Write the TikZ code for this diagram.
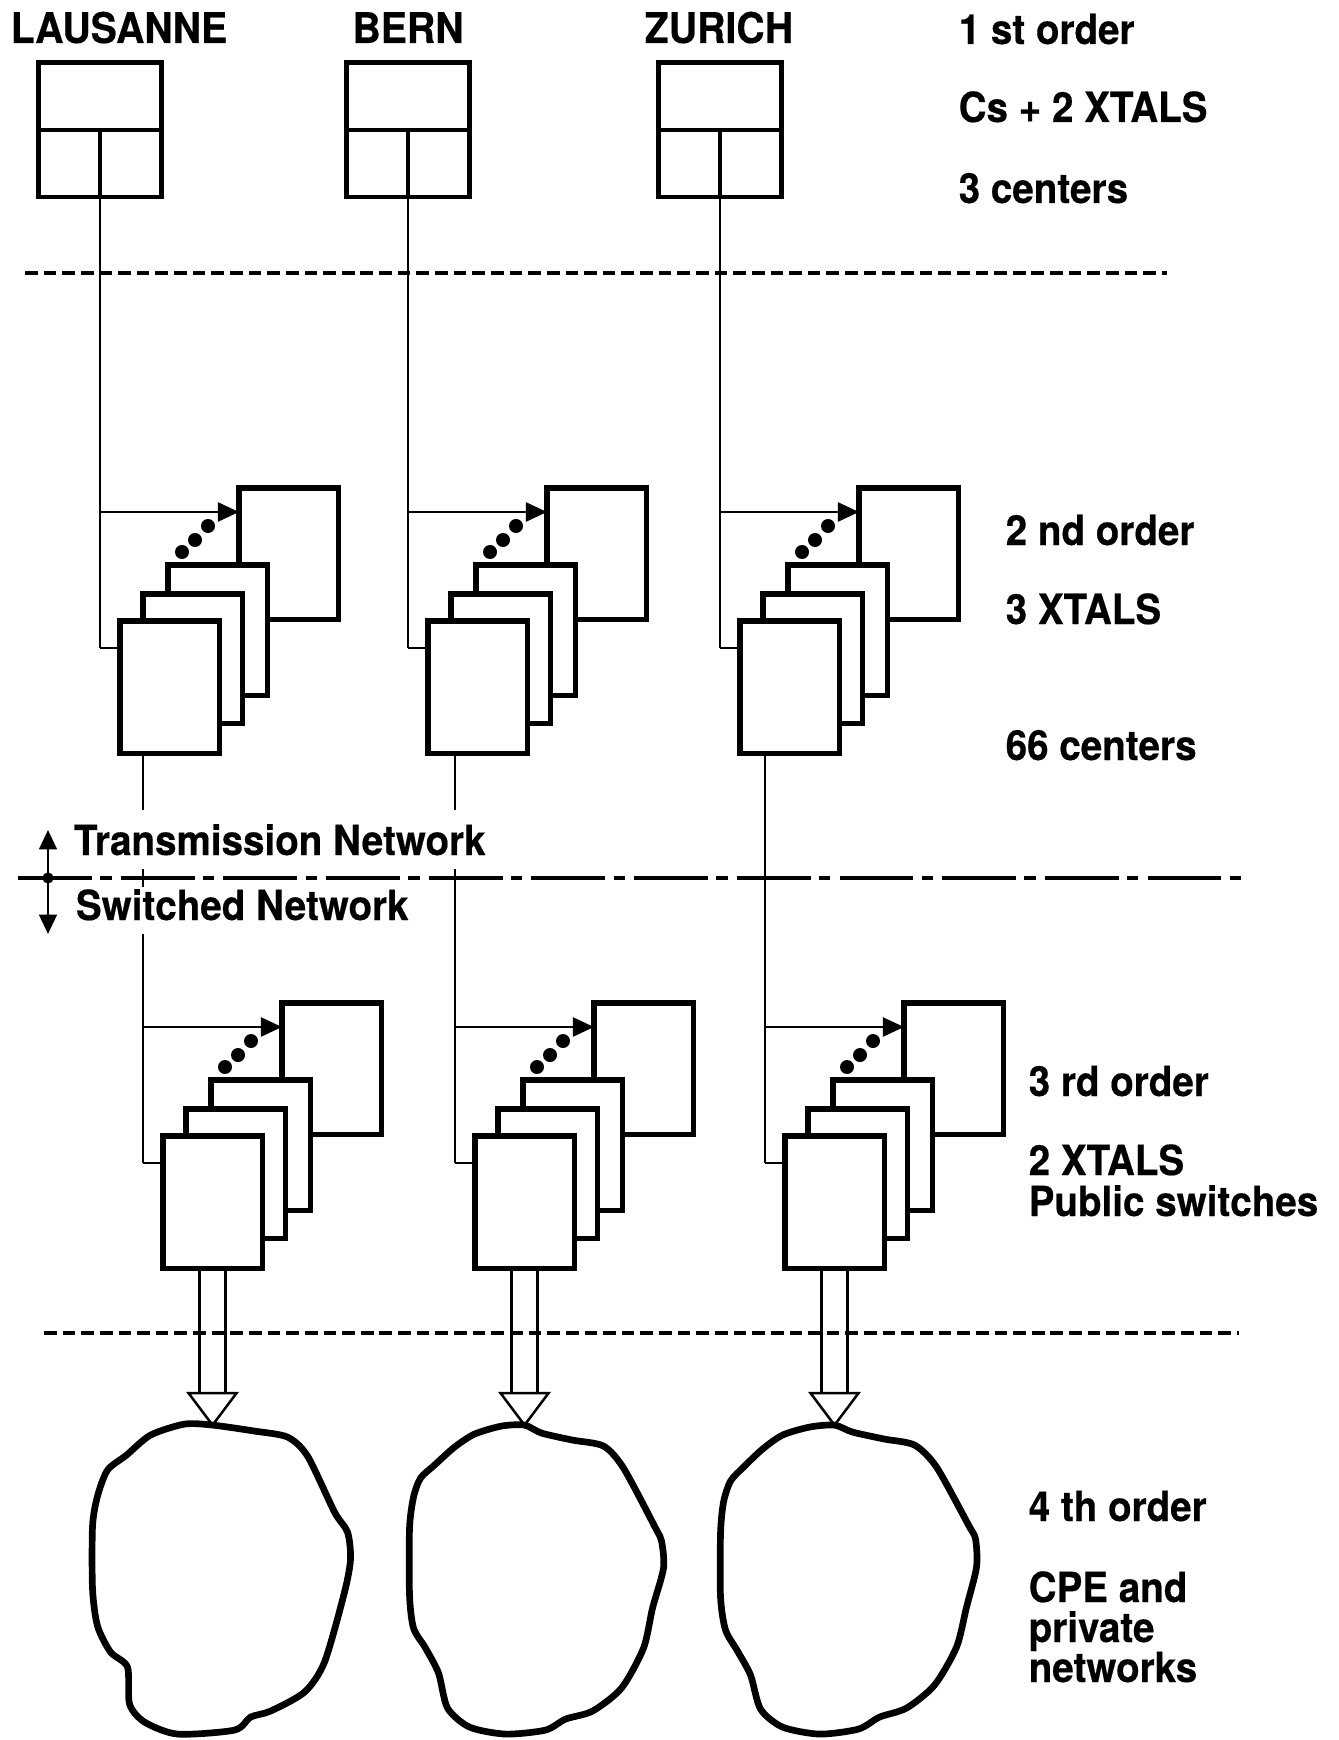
\documentclass[tikz,border=0pt]{standalone}
\usepackage{fontspec}
\setmainfont{TeX Gyre Heros}[FakeStretch=0.93,FakeBold=0.4]
\usetikzlibrary{arrows.meta,calc}
\newcommand{\stackgrp}[3]{%
  \node[sbox,minimum height=1.31cm] (#1bk) at ({#2+139},{#3-24}) {};
  \node[sbox,minimum height=1.30cm] (#1s3) at ({#2+68},{#3+53}) {};
  \node[sbox,minimum height=1.29cm] (#1s2) at ({#2+43},{#3+82}) {};
  \node[sbox,minimum height=1.32cm] (#1s1) at ({#2+20},{#3+109}) {};
  \coordinate (#1a) at (#2,#3);
  \coordinate (#1c) at (#2,{#3+136});
  \draw[arr] (#1a) -- (#1a -| #1bk.west);
  \draw[wire] (#1c) -- (#1c -| #1s1.west);
  \node[dotf] (#1d1) at ({#2+82},{#3+40}) {};
  \node[dotf] (#1d2) at ({#2+95},{#3+28}) {};
  \node[dotf] (#1d3) at ({#2+108},{#3+14}) {};
}
\newcommand{\firstbox}[2]{%
  \node[fbox] (#1) at (#2,130) {};
  \draw[line width=1.4pt] (#1.west) -- (#1.east) (#1.center) -- (#1.south);
}
\newcommand{\dblarr}[2]{% #1 source node, #2 tip coordinate name
  \draw[wire] ($(#1.south)+(-13,0)$) -- ++(0,125);
  \draw[wire] ($(#1.south)+(13,0)$) -- ++(0,125);
  \draw[wire,fill=white] ($(#1.south)+(-24,125)$) -- ++(48,0) -- ++(-24,32) -- cycle;
  \coordinate (#2) at ($(#1.south)+(0,157)$);
}
\begin{document}
\begin{tikzpicture}[x=0.01cm,y=-0.01cm,
  sbox/.style={draw,line width=1.45pt,fill=white,inner sep=0pt,outer sep=0pt,anchor=north west,minimum width=0.99cm},
  fbox/.style={draw,line width=1.4pt,inner sep=0pt,outer sep=0pt,minimum width=1.23cm,minimum height=1.34cm},
  wire/.style={line width=0.7pt},
  arr/.style={wire,-{Triangle[length=6pt,width=5.4pt]}},
  dashln/.style={line width=1pt,dash pattern=on 3.6pt off 1.7pt},
  dashdot/.style={line width=1pt,dash pattern=on 21pt off 2.4pt on 3.2pt off 2.6pt},
  blob/.style={line width=1.9pt,line join=round},
  city/.style={font=\fontsize{12}{13}\selectfont\bfseries,inner sep=0pt,anchor=base},
  lbl/.style={font=\fontsize{11.8}{13}\selectfont\bfseries,inner sep=0pt,anchor=base west},
  netl/.style={font=\fontsize{11.8}{13}\selectfont\bfseries,anchor=base west,fill=white,inner xsep=1.5pt},
  dotf/.style={circle,fill,inner sep=0pt,minimum size=0.14cm}
]
\useasboundingbox (0,0) rectangle (1338,1740);

% ---- titles
\node[city] (tLau) at (119,43) {LAUSANNE};
\node[city] (tBern) at (408,43) {BERN};
\node[city] (tZur) at (719,43) {ZURICH};

% ---- 1st order
\firstbox{lau1}{100}
\firstbox{ber1}{408}
\firstbox{zur1}{720}

% ---- 2nd order
\stackgrp{lau2}{100}{512}
\stackgrp{ber2}{408}{512}
\stackgrp{zur2}{720}{512}
\draw[wire] (lau1.south) -- (lau2c);
\draw[wire] (ber1.south) -- (ber2c);
\draw[wire] (zur1.south) -- (zur2c);

% ---- 3rd order
\stackgrp{lau3}{143}{1027}
\stackgrp{ber3}{455}{1027}
\stackgrp{zur3}{765}{1027}
\coordinate (lau2o) at (143,0 |- lau2s1.south);
\coordinate (ber2o) at (455,0 |- ber2s1.south);
\coordinate (zur2o) at (765,0 |- zur2s1.south);
\draw[wire] (lau2o) -- (lau3c);
\draw[wire] (ber2o) -- (ber3c);
\draw[wire] (zur2o) -- (zur3c);

% ---- dashed separators
\coordinate (d1L) at (25,273);  \coordinate (d1R) at (1167,273);
\coordinate (d3L) at (44,1333); \coordinate (d3R) at (1239,1333);
\draw[dashln] (d1L) -- (d1R);
\draw[dashln] (d3L) -- (d3R);

% ---- transmission / switched
\node[netl,inner ysep=4pt] (tTr) at (68,855) {Transmission Network};
\node[netl,inner ysep=0.5pt,text depth=3.6pt] (tSw) at (70,920) {Switched Network};
\coordinate (ddL) at (18,878); \coordinate (ddR) at (1243,878);
\draw[dashdot] (ddL) -- (ddR);
\coordinate (upT) at (48,830); \coordinate (dnT) at (48,934); \coordinate (dj) at (48,878);
\draw[line width=0.8pt,{Triangle[length=5.5pt,width=5pt]}-{Triangle[length=5.5pt,width=5pt]}] (upT) -- (dnT);
\fill (dj) circle (1.6pt);

% ---- 4th order
\dblarr{lau3s1}{lauT}
\dblarr{ber3s1}{berT}
\dblarr{zur3s1}{zurT}
\begin{scope}[shift={(lauT)}]
\draw[blob] plot[smooth cycle,tension=0.45] coordinates {(0,0) (-28,-1) (-62,10) (-86,30) (-105,45) (-115,71) (-120,101) (-120,164) (-115,201) (-102,227) (-85,242) (-83,279) (-68,297) (-35,309) (22,305) (38,292) (58,286) (92,267) (112,237) (132,167) (138,134) (135,107) (122,87) (95,31) (75,12) (42,6)};
\end{scope}
\begin{scope}[shift={(berT)}]
\draw[blob] plot[smooth cycle,tension=0.45] coordinates {(0,0) (-23,1) (-50,9) (-70,22) (-90,40) (-104,53) (-111,72) (-115,103) (-115,170) (-111,203) (-99,223) (-86,248) (-77,283) (-55,302) (-19,309) (21,305) (41,294) (68,286) (97,263) (119,223) (128,183) (139,143) (137,116) (131,103) (99,43) (79,21) (48,15) (17,8)};
\end{scope}
\begin{scope}[shift={(zurT)}]
\draw[blob] plot[smooth cycle,tension=0.45] coordinates {(0,0) (-25,2) (-52,10) (-72,24) (-91,42) (-104,56) (-111,77) (-114,108) (-114,172) (-109,205) (-97,226) (-84,250) (-74,284) (-52,302) (-15,309) (24,304) (45,292) (72,283) (100,260) (122,222) (132,182) (142,142) (141,114) (134,100) (102,42) (80,20) (50,14) (18,7)};
\end{scope}

% ---- right-hand labels
\node[lbl] (l1a) at (958,44) {1 st order};
\node[lbl] (l1b) at (958,122) {Cs + 2 XTALS};
\node[lbl] (l1c) at (958,203) {3 centers};
\node[lbl] (l2a) at (1005,545) {2 nd order};
\node[lbl] (l2b) at (1005,624) {3 XTALS};
\node[lbl] (l2c) at (1005,760) {66 centers};
\node[lbl] (l3a) at (1028,1096) {3 rd order};
\node[lbl] (l3b) at (1028,1175) {2 XTALS};
\node[lbl] (l3c) at (1028,1216) {Public switches};
\node[lbl] (l4a) at (1028,1521) {4 th order};
\node[lbl] (l4b) at (1028,1602) {CPE and};
\node[lbl] (l4c) at (1028,1642) {private};
\node[lbl] (l4d) at (1028,1682) {networks};
\end{tikzpicture}
\end{document}
